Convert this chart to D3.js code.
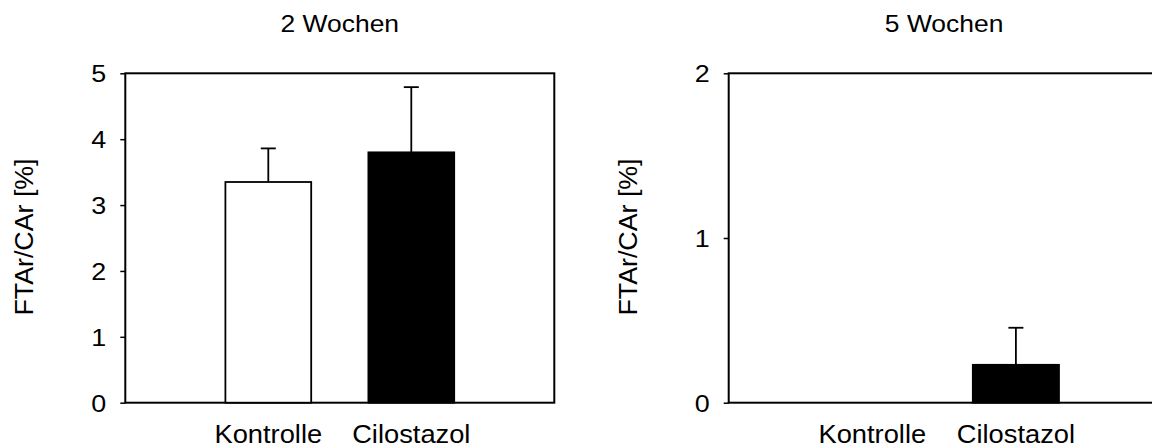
<!DOCTYPE html>
<html><head><meta charset="utf-8">
<script src="https://cdn.jsdelivr.net/npm/d3@7"></script>
<style>
html,body{margin:0;padding:0;background:#fff;}
svg{display:block;font-family:"Liberation Sans",Arial,sans-serif;}
</style></head>
<body>
<svg id="c" width="1152" height="448"></svg>
<script>
// ---- data ----
const categories = ["Kontrolle", "Cilostazol"];
const panelTitles = ["2 Wochen", "5 Wochen"];
const yLabel = "FTAr/CAr [%]";
const means2w = [3.35, 3.80];
const errs2w = [0.51, 0.99];
const means5w = [0, 0.23];
const errs5w = [0, 0.225];
const yTicks2w = [0, 1, 2, 3, 4, 5];
const yTicks5w = [0, 1, 2];
const yMax2w = 5;
const yMax5w = 2;
const fills = ["#ffffff", "#000000"];

// ---- layout ----
const svg = d3.select("#c");
const panels = [
  {title: panelTitles[0], means: means2w, errs: errs2w, ticks: yTicks2w, ymax: yMax2w,
   x0: 125.3, x1: 554.3, labelBase: 33.3},
  {title: panelTitles[1], means: means5w, errs: errs5w, ticks: yTicks5w, ymax: yMax5w,
   x0: 728.7, x1: 1159.5, labelBase: 637}
];
const yTop = 73.3, yBot = 402.7;
const SX = 1.12;

panels.forEach(p => {
  const g = svg.append("g");
  const x = d3.scalePoint().domain(categories).range([p.x0, p.x1]).padding(1);
  const y = d3.scaleLinear().domain([0, p.ymax]).range([yBot, yTop]);
  const bw = (p.x1 - p.x0) * 0.2;

  // frame
  g.append("rect").attr("x", p.x0).attr("y", yTop)
    .attr("width", p.x1 - p.x0).attr("height", yBot - yTop)
    .attr("fill", "none").attr("stroke", "#000").attr("stroke-width", 2);

  // axis
  const ax = g.append("g").attr("transform", `translate(${p.x0},0)`)
    .call(d3.axisLeft(y).tickValues(p.ticks).tickSize(5).tickFormat(d3.format("d")));
  ax.select(".domain").remove();
  ax.selectAll(".tick line").attr("stroke", "#000").attr("stroke-width", 1.5);
  ax.selectAll(".tick text")
    .attr("x", 0).attr("dy", "0.36em")
    .attr("transform", `translate(-19,0) scale(${SX},1)`)
    .attr("font-size", 24).attr("font-family", "Liberation Sans, Arial, sans-serif")
    .attr("fill", "#000");

  // bars with upper error bars
  categories.forEach((c, i) => {
    const m = p.means[i], e = p.errs[i];
    if (m <= 0) return;
    const cx = x(c);
    g.append("line").attr("x1", cx).attr("x2", cx)
      .attr("y1", y(m)).attr("y2", y(m + e))
      .attr("stroke", "#000").attr("stroke-width", 1.8);
    g.append("line").attr("x1", cx - 7.5).attr("x2", cx + 7.5)
      .attr("y1", y(m + e)).attr("y2", y(m + e))
      .attr("stroke", "#000").attr("stroke-width", 1.8);
    g.append("rect").attr("x", cx - bw / 2).attr("y", y(m))
      .attr("width", bw).attr("height", y(0) - y(m))
      .attr("fill", fills[i]).attr("stroke", "#000").attr("stroke-width", 1.8);
  });

  // category labels
  categories.forEach(c => {
    g.append("text")
      .attr("transform", `translate(${x(c)},442.5) scale(1.05,1)`)
      .attr("text-anchor", "middle").attr("font-size", 26).attr("fill", "#000")
      .text(c);
  });

  // title (centred over the plot frame)
  g.append("text")
    .attr("transform", `translate(${(p.x0 + p.x1) / 2},31.5) scale(1.15,1)`)
    .attr("text-anchor", "middle").attr("font-size", 23).attr("fill", "#000")
    .text(p.title);

  // y label
  g.append("text")
    .attr("transform", `translate(${p.labelBase},237) rotate(-90) scale(1.05,1)`)
    .attr("text-anchor", "middle").attr("font-size", 25.5).attr("fill", "#000")
    .text(yLabel);
});
</script>
</body></html>
